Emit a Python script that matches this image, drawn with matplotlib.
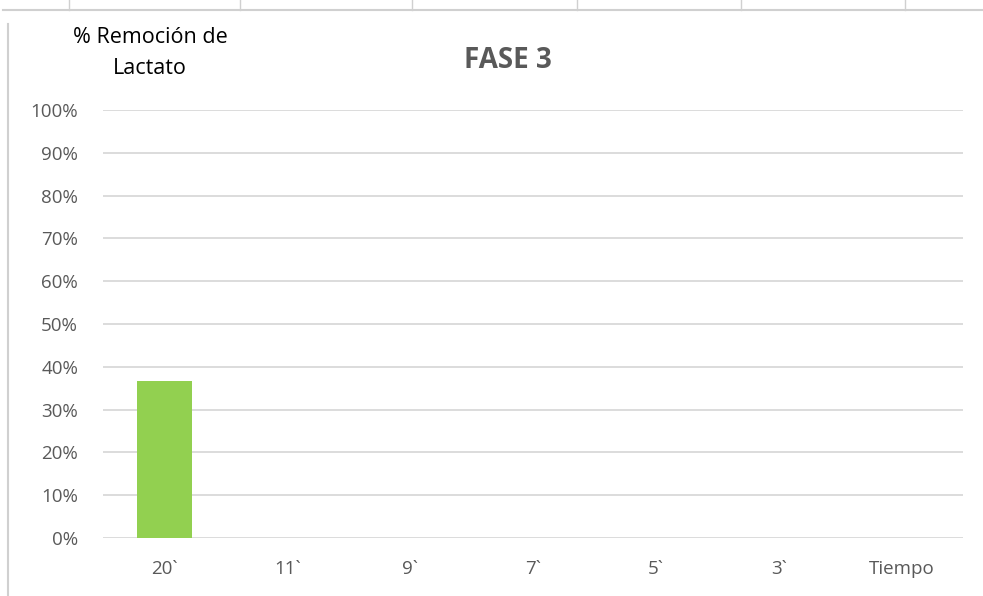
import numpy as np
import matplotlib.pyplot as plt
from matplotlib.lines import Line2D
from matplotlib.ticker import FuncFormatter

# data
categories = ['20`', '11`', '9`', '7`', '5`', '3`', 'Tiempo']
removal = [0.367, np.nan, np.nan, np.nan, np.nan, np.nan, np.nan]
y_ticks = [0, 0.1, 0.2, 0.3, 0.4, 0.5, 0.6, 0.7, 0.8, 0.9, 1.0]

plt.rcParams['font.family'] = ['Open Sans', 'DejaVu Sans']

fig = plt.figure(figsize=(9.83, 5.96), dpi=100)
W, H = 983, 596
ax = fig.add_axes([103 / W, 1 - 538 / H, 860 / W, 428 / H])

x = np.arange(len(categories))
ax.bar(x, removal, width=0.45, color='#92d050', zorder=3)

ax.set_xlim(-0.5, len(categories) - 0.5)
ax.set_ylim(0, 1.0)
ax.set_yticks(y_ticks)
ax.yaxis.set_major_formatter(FuncFormatter(lambda v, p: f'{v * 100:.0f}%'))
ax.set_xticks(x)
ax.set_xticklabels(categories)
ax.grid(axis='y', color='#d9d9d9', linewidth=1.3, zorder=0)
ax.tick_params(length=0, colors='#595959', labelsize=13.5)
ax.tick_params(axis='y', pad=18)
ax.tick_params(axis='x', pad=16)
for s in ax.spines.values():
    s.set_visible(False)

fig.text(508 / W, 1 - 60 / H, 'FASE 3', ha='center', va='center',
         fontsize=20, fontweight='bold', color='#595959')
fig.text(150 / W, 1 - 53 / H, '% Remoción de\nLactato', ha='center', va='center',
         fontsize=15.5, color='black', linespacing=1.65)

# sheet border lines around the chart
fig.add_artist(Line2D([3 / W, 1], [1 - 10 / H, 1 - 10 / H], color='#d0d0d0', lw=1.5))
fig.add_artist(Line2D([8 / W, 8 / W], [0, 1 - 24 / H], color='#d0d0d0', lw=1.5))
for tx in [69, 240, 412, 577, 741, 905]:
    fig.add_artist(Line2D([tx / W, tx / W], [1 - 10 / H, 1], color='#d0d0d0', lw=1))

fig.savefig('out.png', dpi=100)
